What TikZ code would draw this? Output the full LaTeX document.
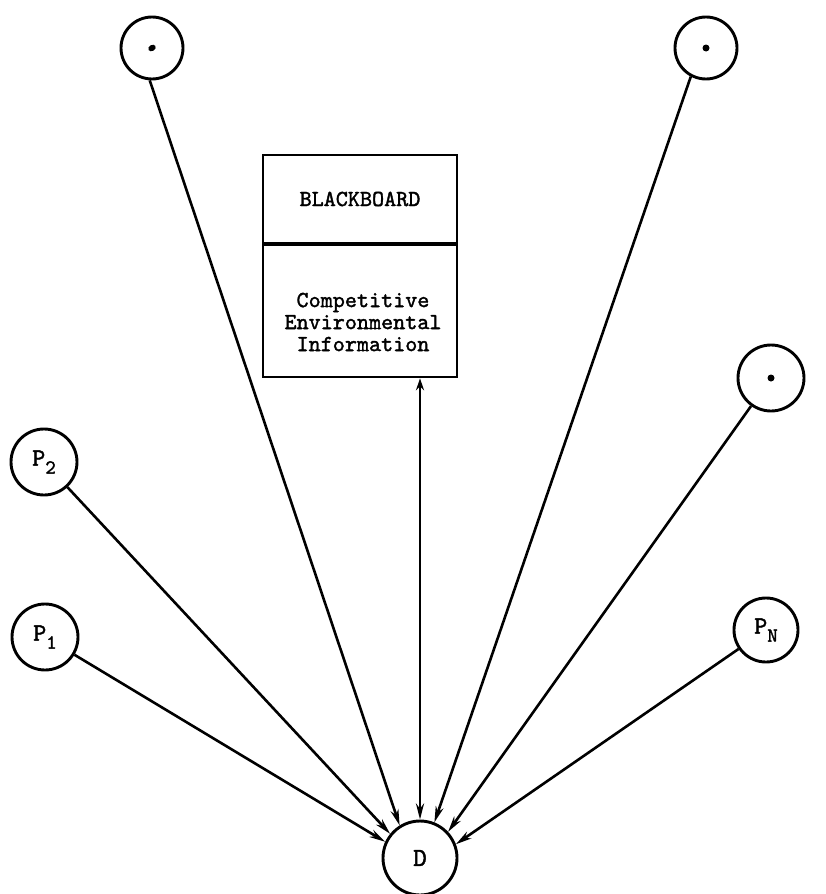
\documentclass[tikz,border=0pt]{standalone}
\usepackage{fontspec}
\usetikzlibrary{arrows.meta,positioning}
\newfontfamily\twfont{lmmono10-regular.otf}[FakeBold=1.6]
\newcommand{\tw}{\twfont\fontsize{23}{23}\selectfont}
\newcommand{\plab}[2]{\fontsize{25}{25}\selectfont P\raisebox{-8pt}{\fontsize{20}{20}\selectfont #2}}
\begin{document}
\begin{tikzpicture}[x=1pt,y=-1pt,
  circ/.style={draw,circle,line width=2.9pt,inner sep=0pt,font=\tw},
  conn/.style={line width=2.6pt,-{Stealth[length=16pt,width=8pt]}},
  boxpart/.style={draw,line width=2.2pt,minimum width=194pt,inner sep=0pt,font=\tw}]
\useasboundingbox (0,0) rectangle (825,894);
% circles
\node[circ,minimum size=62pt] (TL) at (152,48) {};
\node[circ,minimum size=62pt] (TR) at (706,48) {};
\node[circ,minimum size=66pt] (P2) at (44,462) {\plab{P}{2}};
\node[circ,minimum size=66pt] (P1) at (45,637) {\plab{P}{1}};
\node[circ,minimum size=66pt] (RM) at (771,378) {};
\node[circ,minimum size=64pt] (PN) at (766,630) {\plab{P}{N}};
\node[circ,minimum size=74pt,font=\twfont\fontsize{26}{26}\selectfont] (D) at (420,858) {D};
% dots
\fill[rotate around={30:(TL.center)}] (TL.center) ellipse (4pt and 3pt);
\fill (TR.center) circle (3.5pt);
\fill (RM.center) circle (3.5pt);
% blackboard
\node[boxpart,minimum height=88pt] (BBT) at (360,199) {BLACKBOARD};
\node[boxpart,minimum height=132pt,below=0pt of BBT] (BBB) {};
\node[font=\tw,align=center,inner sep=0pt] (BBX) at (363,322)
  {Competitive\\[-1pt]Environmental\\[-1pt]Information};
% connectors
\draw[conn] (P1) -- (D.155);
\draw[conn] (P2) -- (D.141);
\draw[conn] (TL.266) -- (D.122);
\draw[line width=2.6pt,{Stealth[length=12pt,width=8pt]}-{Stealth[length=16pt,width=8pt]}] (D.north |- BBB.south) -- (D.north);
\draw[conn] (TR.242) -- (D.68);
\draw[conn] (RM) -- (D.43);
\draw[conn] (PN) -- (D.21);
\end{tikzpicture}
\end{document}
